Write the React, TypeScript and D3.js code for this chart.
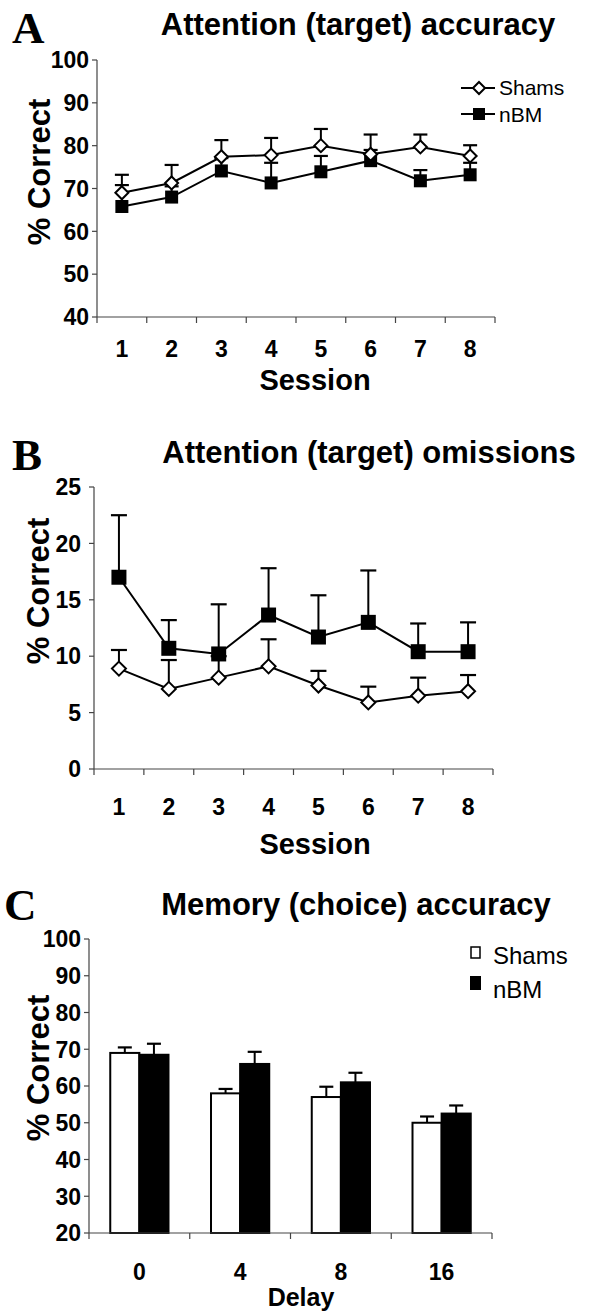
import React from "react";
import * as d3 from "d3";

// ---------- DATA ----------
const sessions = [1, 2, 3, 4, 5, 6, 7, 8];

// Panel A: Attention (target) accuracy
const accShams = [69.0, 71.3, 77.4, 77.8, 80.0, 78.0, 79.7, 77.6];
const accShamsSem = [4.2, 4.2, 3.9, 4.0, 3.9, 4.6, 2.9, 2.5];
const accNbm = [65.8, 68.0, 74.1, 71.3, 73.9, 76.5, 71.8, 73.2];
const accNbmSem = [5.0, 2.5, 3.0, 4.7, 3.7, 2.5, 2.5, 2.8];
const accTicks = [40, 50, 60, 70, 80, 90, 100];

// Panel B: Attention (target) omissions
const omShams = [8.9, 7.1, 8.1, 9.1, 7.4, 5.9, 6.5, 6.9];
const omShamsSem = [1.65, 2.56, 1.9, 2.4, 1.3, 1.4, 1.6, 1.43];
const omNbm = [17.0, 10.7, 10.2, 13.65, 11.7, 13.0, 10.4, 10.4];
const omNbmSem = [5.5, 2.5, 4.4, 4.15, 3.7, 4.6, 2.5, 2.6];
const omTicks = [0, 5, 10, 15, 20, 25];

// Panel C: Memory (choice) accuracy
const delays = ["0", "4", "8", "16"];
const memShams = [69.0, 58.0, 57.0, 50.0];
const memShamsSem = [1.5, 1.2, 2.8, 1.7];
const memNbm = [68.5, 66.0, 61.0, 52.5];
const memNbmSem = [3.0, 3.3, 2.6, 2.2];
const memTicks = [20, 30, 40, 50, 60, 70, 80, 90, 100];

const groups = ["Shams", "nBM"];

// ---------- STYLE ----------
const SANS = "'Liberation Sans', Arial, Helvetica, sans-serif";
const SERIF = "'Liberation Serif', 'Times New Roman', serif";
const AXIS = "#444";

function Diamond({ cx, cy, r }: { cx: number; cy: number; r: number }) {
  return (
    <path
      d={`M${cx},${cy - r}L${cx + r},${cy}L${cx},${cy + r}L${cx - r},${cy}Z`}
      fill="#fff"
      stroke="#000"
      strokeWidth={2}
    />
  );
}

function Square({ cx, cy, s }: { cx: number; cy: number; s: number }) {
  return <rect x={cx - s / 2} y={cy - s / 2} width={s} height={s} fill="#000" />;
}

type LineProps = {
  x0: number;
  x1: number;
  yTop: number;
  yBottom: number;
  domain: [number, number];
  ticks: number[];
  shams: number[];
  shamsSem: number[];
  nbm: number[];
  nbmSem: number[];
  sq: number;
  dr: number;
  cap: number;
  tickGap: number;
  numBase: number;
  titleBase: number;
};

function LinePanel(p: LineProps) {
  const x = d3.scaleBand<number>().domain(sessions).range([p.x0, p.x1]);
  const cx = (s: number) => (x(s) as number) + x.bandwidth() / 2;
  const y = d3.scaleLinear().domain(p.domain).range([p.yBottom, p.yTop]);
  const line = d3
    .line<number>()
    .x((_, i) => cx(sessions[i]))
    .y((d) => y(d));
  const boundaries = [...sessions.map((s) => x(s) as number), p.x1];
  const errs = (vals: number[], sems: number[]) =>
    vals.map((v, i) => (
      <g key={i}>
        <line x1={cx(sessions[i])} x2={cx(sessions[i])} y1={y(v)} y2={y(v + sems[i])} stroke="#000" strokeWidth={2} />
        <line
          x1={cx(sessions[i]) - p.cap / 2}
          x2={cx(sessions[i]) + p.cap / 2}
          y1={y(v + sems[i])}
          y2={y(v + sems[i])}
          stroke="#000"
          strokeWidth={2.2}
        />
      </g>
    ));
  return (
    <g>
      {/* axes */}
      <line x1={p.x0} x2={p.x0} y1={p.yTop} y2={p.yBottom} stroke={AXIS} strokeWidth={1.2} />
      <line x1={p.x0} x2={p.x1} y1={p.yBottom} y2={p.yBottom} stroke={AXIS} strokeWidth={1.2} />
      {p.ticks.map((t) => (
        <g key={t}>
          <line x1={p.x0 - 5} x2={p.x0} y1={y(t)} y2={y(t)} stroke={AXIS} strokeWidth={1.2} />
          <text
            x={p.x0 - p.tickGap}
            y={y(t)}
            dy="0.36em"
            textAnchor="end"
            fontFamily={SANS}
            fontWeight="bold"
            fontSize={23}
          >
            {t}
          </text>
        </g>
      ))}
      {boundaries.map((b, i) => (
        <line key={i} x1={b} x2={b} y1={p.yBottom} y2={p.yBottom + 6} stroke={AXIS} strokeWidth={1.2} />
      ))}
      {sessions.map((s) => (
        <text key={s} x={cx(s)} y={p.numBase} textAnchor="middle" fontFamily={SANS} fontWeight="bold" fontSize={23}>
          {s}
        </text>
      ))}
      <text x={315} y={p.titleBase} textAnchor="middle" fontFamily={SANS} fontWeight="bold" fontSize={29}>
        Session
      </text>
      {/* error bars */}
      {errs(p.shams, p.shamsSem)}
      {errs(p.nbm, p.nbmSem)}
      {/* lines */}
      <path d={line(p.shams) || ""} fill="none" stroke="#000" strokeWidth={2} />
      <path d={line(p.nbm) || ""} fill="none" stroke="#000" strokeWidth={2} />
      {/* markers */}
      {p.nbm.map((v, i) => (
        <Square key={"n" + i} cx={cx(sessions[i])} cy={y(v)} s={p.sq} />
      ))}
      {p.shams.map((v, i) => (
        <Diamond key={"s" + i} cx={cx(sessions[i])} cy={y(v)} r={p.dr} />
      ))}
    </g>
  );
}

function BarPanel() {
  const x0 = 89,
    x1 = 492,
    yTop = 939,
    yBottom = 1233;
  const x = d3.scaleBand<string>().domain(delays).range([x0, x1]);
  const sub = d3.scaleBand<string>().domain(groups).range([0, x.bandwidth()]).paddingOuter(0.73);
  const y = d3.scaleLinear().domain([20, 100]).range([yBottom, yTop]);
  const boundaries = [...delays.map((d) => x(d) as number), x1];
  const series = [
    { name: "Shams", vals: memShams, sems: memShamsSem, fill: "#fff" },
    { name: "nBM", vals: memNbm, sems: memNbmSem, fill: "#000" },
  ];
  return (
    <g>
      {series.map((s) =>
        s.vals.map((v, i) => {
          const bx = (x(delays[i]) as number) + (sub(s.name) as number);
          const w = sub.bandwidth();
          const mx = bx + w / 2;
          return (
            <g key={s.name + i}>
              <line x1={mx} x2={mx} y1={y(v)} y2={y(v + s.sems[i])} stroke="#000" strokeWidth={2} />
              <line x1={mx - 7} x2={mx + 7} y1={y(v + s.sems[i])} y2={y(v + s.sems[i])} stroke="#000" strokeWidth={2.2} />
              <rect x={bx} y={y(v)} width={w} height={yBottom - y(v)} fill={s.fill} stroke="#000" strokeWidth={2} />
            </g>
          );
        })
      )}
      <line x1={x0} x2={x0} y1={yTop} y2={yBottom} stroke={AXIS} strokeWidth={1.2} />
      <line x1={x0} x2={x1} y1={yBottom} y2={yBottom} stroke={AXIS} strokeWidth={1.2} />
      {memTicks.map((t) => (
        <g key={t}>
          <line x1={x0 - 5} x2={x0} y1={y(t)} y2={y(t)} stroke={AXIS} strokeWidth={1.2} />
          <text x={x0 - 8} y={y(t)} dy="0.36em" textAnchor="end" fontFamily={SANS} fontWeight="bold" fontSize={23}>
            {t}
          </text>
        </g>
      ))}
      {boundaries.map((b, i) => (
        <line key={i} x1={b} x2={b} y1={yBottom} y2={yBottom + 6} stroke={AXIS} strokeWidth={1.2} />
      ))}
      {delays.map((d) => (
        <text
          key={d}
          x={(x(d) as number) + x.bandwidth() / 2}
          y={1280}
          textAnchor="middle"
          fontFamily={SANS}
          fontWeight="bold"
          fontSize={23}
        >
          {d}
        </text>
      ))}
      <text x={301} y={1306} textAnchor="middle" fontFamily={SANS} fontWeight="bold" fontSize={25}>
        Delay
      </text>
      {/* legend */}
      <rect x={471} y={947} width={9} height={11} fill="#fff" stroke="#000" strokeWidth={1.5} />
      <text x={493} y={964} fontFamily={SANS} fontSize={24}>
        Shams
      </text>
      <rect x={470} y={976} width={11} height={14} fill="#000" />
      <text x={493} y={998} fontFamily={SANS} fontSize={24}>
        nBM
      </text>
    </g>
  );
}

function YTitle({ x, y }: { x: number; y: number }) {
  return (
    <text
      transform={`translate(${x},${y}) rotate(-90)`}
      textAnchor="middle"
      fontFamily={SANS}
      fontWeight="bold"
      fontSize={31}
    >
      % Correct
    </text>
  );
}

export default function App() {
  return (
    <svg
      width={592}
      height={1312}
      viewBox="0 0 592 1312"
      style={{ position: "absolute", left: 0, top: 0, background: "#fff" }}
    >
      <rect width={592} height={1312} fill="#fff" />
      {/* Panel A */}
      <text x={12} y={43} fontFamily={SERIF} fontWeight="bold" fontSize={45}>
        A
      </text>
      <text x={358} y={35} textAnchor="middle" fontFamily={SANS} fontWeight="bold" fontSize={31}>
        Attention (target) accuracy
      </text>
      <YTitle x={50} y={172} />
      <LinePanel
        x0={97}
        x1={495}
        yTop={60}
        yBottom={317}
        domain={[40, 100]}
        ticks={accTicks}
        shams={accShams}
        shamsSem={accShamsSem}
        nbm={accNbm}
        nbmSem={accNbmSem}
        sq={13}
        dr={6.5}
        cap={14}
        tickGap={8}
        numBase={357}
        titleBase={390}
      />
      {/* legend A */}
      <line x1={461} x2={495} y1={88} y2={88} stroke="#000" strokeWidth={2} />
      <Diamond cx={479} cy={88} r={6} />
      <text x={499} y={95} fontFamily={SANS} fontSize={21}>
        Shams
      </text>
      <line x1={461} x2={495} y1={114} y2={114} stroke="#000" strokeWidth={2} />
      <Square cx={479} cy={114} s={12} />
      <text x={499} y={122} fontFamily={SANS} fontSize={21}>
        nBM
      </text>

      {/* Panel B */}
      <text x={12} y={470} fontFamily={SERIF} fontWeight="bold" fontSize={45}>
        B
      </text>
      <text x={369} y={463} textAnchor="middle" fontFamily={SANS} fontWeight="bold" fontSize={31}>
        Attention (target) omissions
      </text>
      <YTitle x={49} y={591} />
      <LinePanel
        x0={94}
        x1={493}
        yTop={487}
        yBottom={769}
        domain={[0, 25]}
        ticks={omTicks}
        shams={omShams}
        shamsSem={omShamsSem}
        nbm={omNbm}
        nbmSem={omNbmSem}
        sq={15}
        dr={7}
        cap={16}
        tickGap={13}
        numBase={815}
        titleBase={854}
      />

      {/* Panel C */}
      <text x={4} y={920} fontFamily={SERIF} fontWeight="bold" fontSize={45}>
        C
      </text>
      <text x={356} y={915} textAnchor="middle" fontFamily={SANS} fontWeight="bold" fontSize={31}>
        Memory (choice) accuracy
      </text>
      <YTitle x={49} y={1068} />
      <BarPanel />
    </svg>
  );
}
